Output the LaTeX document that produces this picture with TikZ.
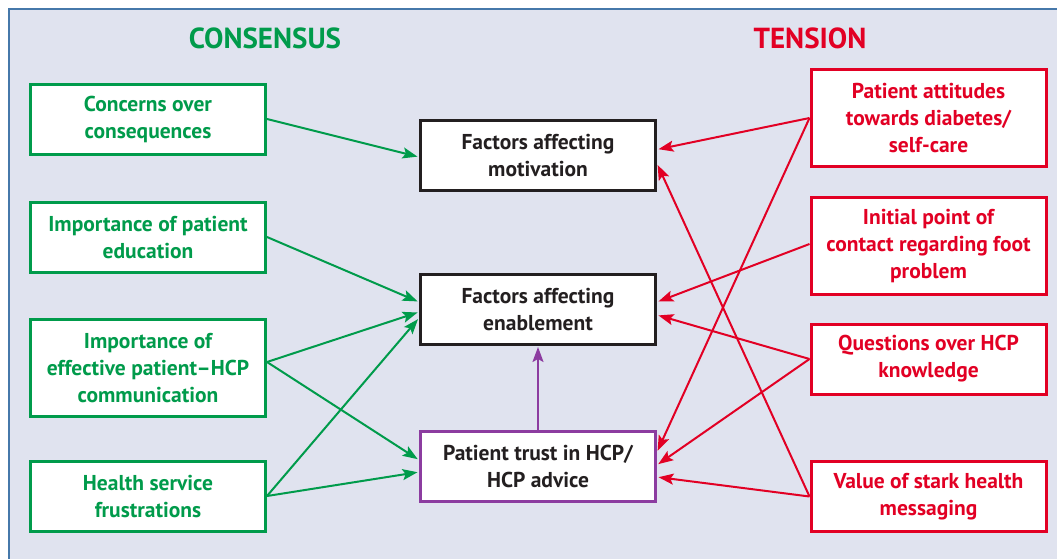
\documentclass[tikz,border=0pt]{standalone}
\usepackage{fontspec}
\setmainfont{PT Sans}
\usetikzlibrary{arrows.meta}

\definecolor{consgreen}{RGB}{0,155,75}
\definecolor{tensred}{RGB}{226,0,36}
\definecolor{trustpurple}{RGB}{140,60,160}
\definecolor{boxblack}{RGB}{35,31,32}
\definecolor{panelgrey}{RGB}{224,227,239}
\definecolor{panelblue}{RGB}{70,120,170}

\begin{document}
\begin{tikzpicture}[x=1pt, y=-1pt,
  every node/.style = {shape=rectangle, align=center, fill=white,
    line width=3pt, inner sep=0pt, minimum width=235pt, minimum height=70pt,
    font=\fontsize{21.5}{27}\selectfont\bfseries},
  consbox/.style = {draw=consgreen, text=consgreen},
  tensbox/.style = {draw=tensred, text=tensred},
  factbox/.style = {draw=boxblack, text=boxblack},
  trustbox/.style = {draw=trustpurple, text=boxblack},
  tallbox/.style = {minimum height=97pt},
  heading/.style = {draw=none, fill=none, minimum width=0pt, minimum height=0pt,
    font=\fontsize{29}{32}\selectfont\bfseries},
  link/.style = {line width=2pt, shorten >=1.5pt,
    -{Stealth[length=15pt, width=11pt, inset=3pt]}}]

\useasboundingbox (0,0) rectangle (1057,558);
\fill[panelgrey] (9,9) rectangle (1060,560);
\draw[panelblue, line width=1.5pt] (9,560) -- (9,9) -- (1060,9);

% Define the headings and boxes
\node[heading, text=consgreen] (conshead) at (265,38) {CONSENSUS};
\node[heading, text=tensred] (tenshead) at (810,38) {TENSION};

\node[consbox] (concerns) at (148,119) {Concerns over\\consequences};
\node[consbox] (education) at (148,237) {Importance of patient\\education};
\node[consbox, tallbox] (communication) at (148,368)
  {Importance of\\effective patient--HCP\\communication};
\node[consbox] (frustrations) at (148,496) {Health service\\frustrations};

\node[factbox] (motivation) at (538,155.5) {Factors affecting\\motivation};
\node[factbox] (enablement) at (538,309) {Factors affecting\\enablement};
\node[trustbox] (trust) at (538,466) {Patient trust in HCP/\\HCP advice};

\node[tensbox, tallbox] (attitudes) at (928.5,118)
  {Patient attitudes\\towards diabetes/\\self-care};
\node[tensbox, tallbox] (contact) at (928.5,246)
  {Initial point of\\contact regarding foot\\problem};
\node[tensbox] (knowledge) at (928.5,359) {Questions over HCP\\knowledge};
\node[tensbox] (messaging) at (928.5,496.5) {Value of stark health\\messaging};

% Consensus links
\draw[link, consgreen] (concerns.east) -- ([yshift=-1.5pt]motivation.west);
\draw[link, consgreen] (education.east) -- ([yshift=7pt]enablement.west);
\draw[link, consgreen] ([yshift=6pt]communication.east) -- ([yshift=-3pt]enablement.west);
\draw[link, consgreen] ([yshift=6pt]communication.east) -- ([yshift=6pt]trust.west);
\draw[link, consgreen] (frustrations.east) -- ([yshift=-9pt]enablement.west);
\draw[link, consgreen] (frustrations.east) -- ([yshift=-6pt]trust.west);

% Tension links
\draw[link, tensred] (attitudes.west) -- ([yshift=6pt]motivation.east);
\draw[link, tensred] (attitudes.west) -- ([yshift=14pt]trust.east);
\draw[link, tensred] ([yshift=2pt]contact.west) -- ([yshift=7pt]enablement.east);
\draw[link, tensred] (knowledge.west) -- ([yshift=-6pt]enablement.east);
\draw[link, tensred] (knowledge.west) -- ([yshift=1pt]trust.east);
\draw[link, tensred] (messaging.west) -- ([yshift=-8pt]motivation.east);
\draw[link, tensred] (messaging.west) -- ([yshift=-11pt]trust.east);

\draw[link, trustpurple] (trust.north) -- (enablement.south);
\end{tikzpicture}
\end{document}
